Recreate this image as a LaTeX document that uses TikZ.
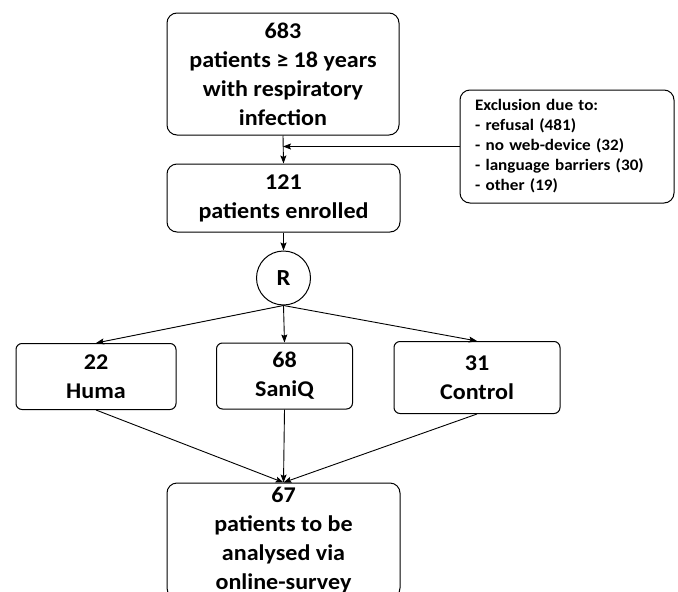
\documentclass[tikz,border=0pt]{standalone}
\usepackage{fontspec}
\setmainfont{Carlito}[FakeStretch=1.07]
\usetikzlibrary{arrows.meta}
\begin{document}
\begin{tikzpicture}[x=1pt,y=-1pt,
  every node/.style={font=\bfseries},
  bigbox/.style={draw,line width=1pt,rounded corners=10pt,align=center,inner sep=0pt,
    font=\fontsize{22.5}{29}\selectfont\bfseries},
  grpbox/.style={draw,line width=1pt,rounded corners=6pt,align=center,inner sep=0pt,
    font=\fontsize{22.5}{29}\selectfont\bfseries},
  exbox/.style={draw,line width=1pt,rounded corners=10pt,align=left,inner sep=0pt,
    font=\fontsize{16}{20}\selectfont\bfseries},
  conn/.style={line width=0.9pt},
  arr/.style={conn,-{Stealth[length=8pt,width=6pt,inset=1.5pt]}}]
\useasboundingbox (0,0) rectangle (678,592);
\clip (0,0) rectangle (678,592);
\node[bigbox,minimum width=232pt,minimum height=122pt] (top) at (283,74)
  {683\\patients ≥ 18 years\\with respiratory\\infection};
\node[exbox,minimum width=214pt,minimum height=113pt,text width=184pt] (excl) at (567,146.5)
  {Exclusion due to:\\- refusal (481)\\- no web-device (32)\\- language barriers (30)\\- other (19)};
\node[bigbox,minimum width=233pt,minimum height=68pt] (enr) at (283.5,198)
  {121\\patients enrolled};
\node[circle,draw,line width=1pt,minimum size=54pt,inner sep=0pt,
  font=\fontsize{23}{26}\selectfont\bfseries] (R) at (283.5,278) {R};
\node[grpbox,minimum width=160pt,minimum height=66pt] (huma) at (96,376.5) {22\\Huma};
\node[grpbox,minimum width=136pt,minimum height=66pt] (saniq) at (284.5,376) {68\\SaniQ};
\node[grpbox,minimum width=166pt,minimum height=72pt] (ctrl) at (477,377.5) {31\\Control};
\node[bigbox,minimum width=233pt,minimum height=115pt] (fin) at (283.5,540.5)
  {67\\patients to be\\analysed via\\online-survey};
\coordinate (join) at (excl.west -| top.south);
\draw[arr] (top.south) -- (enr.north);
\draw[arr] (excl.west) -- (join);
\draw[arr] (enr.south) -- (R.north);
\draw[arr] (R.south) -- (huma.north);
\draw[arr] (R.south) -- (saniq.north);
\draw[arr] (R.south) -- (ctrl.north);
\draw[arr] (huma.south) -- (fin.north);
\draw[arr] (saniq.south) -- (fin.north);
\draw[arr] (ctrl.south) -- (fin.north);
\end{tikzpicture}
\end{document}
